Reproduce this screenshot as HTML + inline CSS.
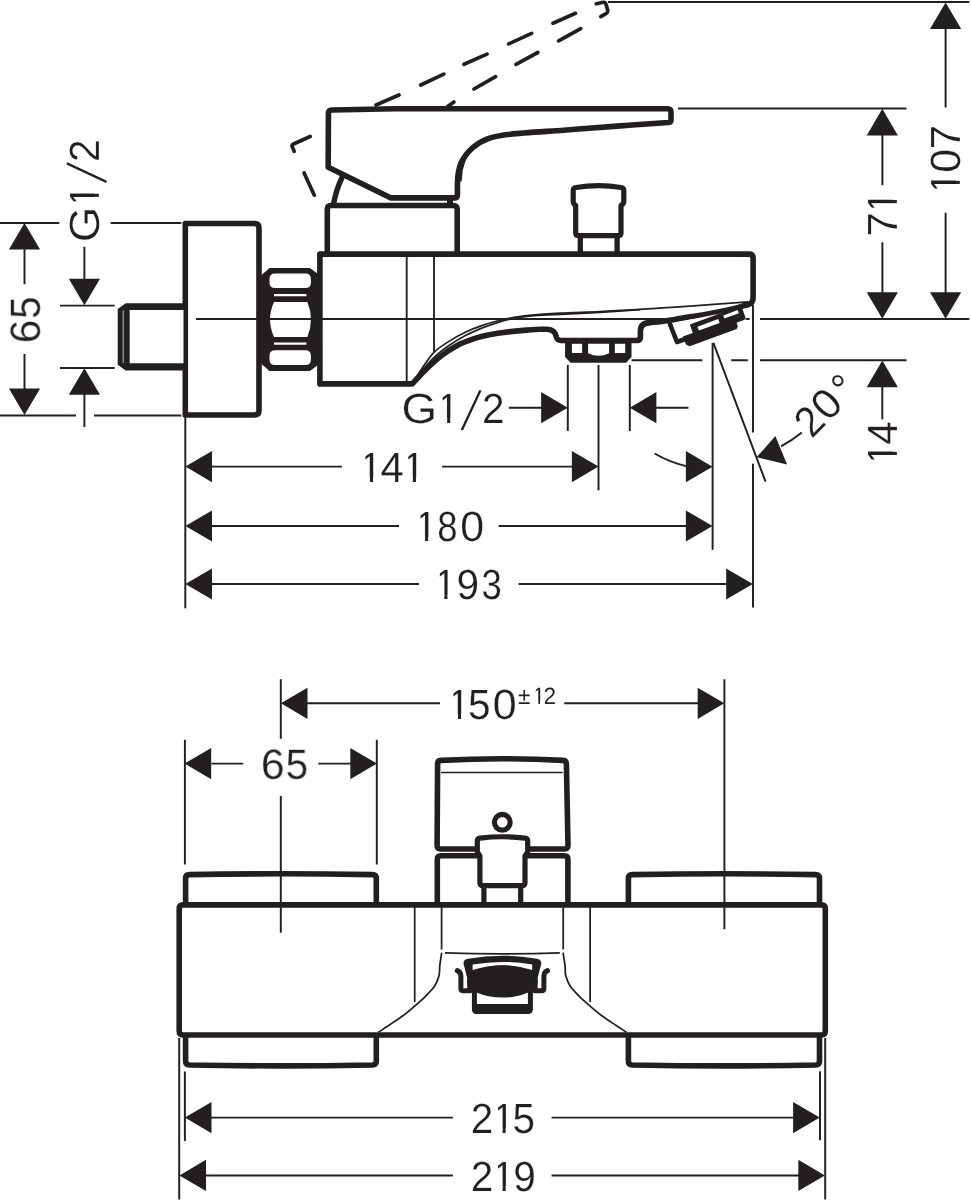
<!DOCTYPE html>
<html lang="en">
<head>
<meta charset="utf-8">
<title>Dimension drawing</title>
<style>
html,body{margin:0;padding:0;background:#fff;}
body{width:971px;height:1201px;overflow:hidden;}
svg{display:block;will-change:transform;}
svg text{font-family:"Liberation Sans",sans-serif;fill:#231f20;text-rendering:geometricPrecision;}

</style>
</head>
<body>
<svg width="971" height="1201" viewBox="0 0 971 1201">
<defs><filter id="gray" filterUnits="userSpaceOnUse" x="0" y="0" width="971" height="1201"><feOffset dx="0" dy="0"/></filter></defs>
<rect x="0" y="0" width="971" height="1201" fill="#fff"/>
<path d="M196 319.0 H667" fill="none" stroke="#231f20" stroke-width="1.95" />
<path d="M745.8 319.0 H749.6 M760 319.0 H969.3" fill="none" stroke="#231f20" stroke-width="1.95" />
<path d="M376 105 L399 95 M420.7 85 L443.8 74.1 M464 64.3 L487 54.1 M508.6 43.9 L531.6 33.4 M553 23.2 L575.5 13.3 M596.4 3.8 L603 2.3 Q605.3 2 606 4.2 L607.7 10.3 Q608.1 12.3 606.4 13.3 L600.8 16.6 M447.7 106.6 L453.9 102 M474 89 L495.6 76.6 M516 64.3 L537.8 52.5 M558.6 40.8 L580.7 28.6 M294.2 151.4 L292.2 146.5 Q291.6 145 293 144.3 L310.2 136.5 M304.1 173 L314.3 195.2" fill="none" stroke="#231f20" stroke-width="3.7" stroke-linecap="round" stroke-linejoin="round"/>
<path d="M185.3 223.5 H254.5 Q259 223.5 259 228 V410.5 Q259 415 254.5 415 H185.3 Z" fill="#fff" stroke="#231f20" stroke-width="5.6" stroke-linejoin="round" stroke-linecap="round" />
<path d="M196 319.0 H262" fill="none" stroke="#231f20" stroke-width="1.95" />
<path d="M184 303.2 H125.7 L117.7 309 V364.7 L125.7 370.5 H184 Z" fill="#231f20"/>
<path d="M129.7 310.1 H183.5 V363.3 H129.7 Z" fill="#fff"/>
<path d="M123.2 310.5 V363" fill="none" stroke="#fff" stroke-width="1.1" opacity="0.65"/>
<path d="M261 275.5 L269.5 268 H309.9 L318 274 V365 L309.9 371 H269.5 L261 363.4 Z" fill="#231f20"/>
<path d="M275.0 273.5 H305.4 Q310.9 273.5 310.9 279.0 V282.5 Q310.9 288 305.4 288 H275.0 Q269.5 288 269.5 282.5 V279.0 Q269.5 273.5 275.0 273.5 Z" fill="#fff"/>
<path d="M275.0 350.3 H305.4 Q310.9 350.3 310.9 355.8 V359.5 Q310.9 365 305.4 365 H275.0 Q269.5 365 269.5 359.5 V355.8 Q269.5 350.3 275.0 350.3 Z" fill="#fff"/>
<path d="M274 302 H307.4 Q314.6 319.45 307.4 336.9 H274 Q266 319.45 274 302 Z" fill="#fff"/>
<path d="M274 294 H306.4 V296.2 H274 Z" fill="#fff"/>
<path d="M274 342.5 H306.4 V344.7 H274 Z" fill="#fff"/>
<path d="M262 319.0 H320" fill="none" stroke="#231f20" stroke-width="1.95" />
<path d="M327.3 254.1 V209.2 Q327.3 205.5 331 205.5 H453.5 Q457.2 205.5 457.2 209.2 V254.1" fill="#fff" stroke="#231f20" stroke-width="5.6" stroke-linejoin="round" stroke-linecap="round" />
<path d="M319.9 383.9 V254.1 H749.1 Q753.1 254.1 753.1 258.1 V297.5 Q753.1 303 748.5 304.5  C745.1 305.4 735.2 308.4 728.0 310.0 C720.8 311.6 712.8 313.1 705.3 314.4 C697.8 315.7 688.4 317.0 682.7 317.9 C677.0 318.8 675.1 319.4 671.3 320.0 C667.5 320.6 663.5 321.2 660.0 321.6 C656.5 322.0 651.7 322.4 650.0 322.6 Q640.4 322.8 640.4 331 V336.7 Q640.4 340.5 636.5 340.5 H561 Q557.2 340.5 556.4 337 Q555.2 329.5 547 329.2 C545.8 329.2 543.9 329.1 540.0 329.3 C536.1 329.5 529.1 329.9 523.6 330.4 C518.1 330.8 512.6 331.3 507.1 332.0 C501.6 332.7 496.1 333.4 490.6 334.5 C485.1 335.6 479.6 336.8 474.1 338.6 C468.6 340.4 463.2 342.3 457.7 345.2 C452.2 348.1 446.7 351.6 441.2 355.9 C435.7 360.1 429.5 366.0 424.7 370.7 C419.9 375.4 414.4 381.7 412.3 383.9 Z" fill="#fff" stroke="#231f20" stroke-width="5.6" stroke-linejoin="round" stroke-linecap="round" />
<path d="M322 319.0 H668" fill="none" stroke="#231f20" stroke-width="1.95" />
<path d="M406.7 256 V382 M434 256 V352.5" fill="none" stroke="#231f20" stroke-width="1.85" />
<path d="M415.0 379.0 C418.0 374.7 427.3 359.7 433.0 353.4 C438.7 347.1 443.9 344.7 449.4 341.1 C454.9 337.5 460.4 334.6 465.9 332.0 C471.4 329.4 476.9 327.3 482.4 325.4 C487.9 323.5 493.4 321.9 498.9 320.5 C504.4 319.1 509.8 318.1 515.3 317.2 C520.8 316.3 524.3 315.7 531.8 315.0 C539.2 314.3 548.6 313.7 560.0 313.1 C571.4 312.5 586.7 312.2 600.0 311.6 C613.3 311.0 625.0 310.3 640.0 309.4 C655.0 308.5 672.0 307.4 690.0 306.1 C708.0 304.9 738.3 302.6 748.0 301.9" fill="none" stroke="#231f20" stroke-width="1.7" />
<path d="M415.0 379.0 C418.0 375.6 427.3 364.0 433.0 358.4 C438.7 352.8 443.9 349.0 449.4 345.2 C454.9 341.4 460.4 338.2 465.9 335.3 C471.4 332.4 476.9 330.1 482.4 327.9 C487.9 325.7 493.4 323.8 498.9 322.1 C504.4 320.5 509.8 319.1 515.3 318.0 C520.8 316.9 524.3 316.4 531.8 315.8 C539.2 315.2 548.6 315.0 560.0 314.4 C571.4 313.8 586.7 313.1 600.0 312.3 C613.3 311.5 633.3 310.1 640.0 309.6" fill="none" stroke="#231f20" stroke-width="1.7" />
<path d="M565.1 339 H631.5 V357 L626.1 362.7 H570.6 L565.1 357 Z" fill="#231f20"/>
<path d="M571.9 343.8 H582.1 V353 H571.9 Z" fill="#fff"/>
<path d="M614.8 343.8 H625.2 V353 H614.8 Z" fill="#fff"/>
<path d="M588.1 343.8 H609.1 V353.2 Q598.6 358.2 588.1 353.2 Z" fill="#fff"/>
<path d="M669.9 323.8 L677.0 342.0 L743.2 317.9 L740.2 309.4" fill="#fff" stroke="#231f20" stroke-width="4.6" stroke-linejoin="round" stroke-linecap="round" />
<path d="M683.0 336.6 L734.7 317.8 L737.8 326.3 L736.7 329.1 L689.7 346.2 L685.9 344.6 Z" fill="#231f20"/>
<path d="M689.8 324.6 L719.9 313.6 L723.3 323.0 L693.2 334.0 Z" fill="#231f20"/>
<path d="M697.5 326.7 L718.2 319.1 L719.6 323.1 L698.9 330.6 Z" fill="#fff"/>
<path d="M718.9 314.0 L739.6 306.4 L743.0 315.8 L722.4 323.4 Z" fill="#231f20"/>
<path d="M723.2 315.4 L737.8 310.1 L738.9 313.3 L724.4 318.6 Z" fill="#fff"/>
<path d="M341.8 178 Q336 190 333.6 204" fill="none" stroke="#231f20" stroke-width="5.4" stroke-linejoin="round" stroke-linecap="round" />
<path d="M450 198 V205.5" fill="none" stroke="#231f20" stroke-width="6" />
<path d="M328.4 113.5 Q328.4 110.1 331.8 110 L395 108.7 H667.6 Q671 108.7 671 112 V120 Q671 122.3 668.5 122.5 C660.0 123.1 634.8 124.8 617.4 126.1 C600.0 127.4 581.8 128.8 563.9 130.2 C546.0 131.5 522.8 132.8 510.3 134.2 C497.8 135.6 495.1 136.2 488.9 138.4 C482.6 140.6 477.3 143.8 472.8 147.6 C468.3 151.3 464.5 156.7 462.1 160.9 C459.7 165.1 459.1 168.8 458.3 173.0 C457.5 177.2 457.5 183.8 457.4 186.0 V195.2 Q457.2 197.9 454.5 197.9 H391 L328.2 167.3 Z" fill="#fff" stroke="#231f20" stroke-width="5.6" stroke-linejoin="round" stroke-linecap="round" />
<path d="M466.5 157.5 L462.8 170 L461.6 181.5 L459 181.5 L460.5 168 L463 158 Z" fill="#231f20"/>
<path d="M580.3 235.6 V253 M617.1 235.6 V253" fill="none" stroke="#231f20" stroke-width="5.3" stroke-linejoin="round" stroke-linecap="round" />
<path d="M573.2 190.5 Q573.2 187.8 576 187.5 Q598.5 183.9 621 187.5 Q623.8 187.8 623.8 190.5 V201.5 Q623.8 203.8 621 205.5 V233 Q621 235.6 618.3 235.6 H578.4 Q575.7 235.6 575.7 233 V205.5 Q573.2 203.8 573.2 201.5 Z" fill="#fff" stroke="#231f20" stroke-width="5.2" stroke-linejoin="round" stroke-linecap="round" />
<path d="M608 2 H969.3" fill="none" stroke="#231f20" stroke-width="1.95" />
<path d="M678 108.4 H906.5" fill="none" stroke="#231f20" stroke-width="1.95" />
<path d="M631.5 360.2 H702.4 M731.2 360.2 H747.8 M760 360.2 H906.5" fill="none" stroke="#231f20" stroke-width="1.95" />
<path d="M0 222.9 H59.3 M110.6 222.9 H181.3 M0 415.4 H76 M94 415.4 H181.3" fill="none" stroke="#231f20" stroke-width="1.95" />
<path d="M24.5 248 V284.3 M24.5 354 V391" fill="none" stroke="#231f20" stroke-width="1.95" />
<path d="M24.5 223.0 L8.9 249.6 L40.1 249.6 Z" fill="#231f20"/>
<path d="M24.5 415.1 L40.1 388.5 L8.9 388.5 Z" fill="#231f20"/>
<path d="M84.4 246.7 V281 M84.4 393 V427" fill="none" stroke="#231f20" stroke-width="1.95" />
<path d="M60 305.6 H114.6 M60 367.9 H114.6" fill="none" stroke="#231f20" stroke-width="1.95" />
<path d="M84.4 305.3 L100.0 278.7 L68.8 278.7 Z" fill="#231f20"/>
<path d="M84.4 368.2 L68.8 394.8 L100.0 394.8 Z" fill="#231f20"/>
<path d="M185.3 417 V608.3" fill="none" stroke="#231f20" stroke-width="1.95" />
<path d="M567.8 365 V431 M598.5 365 V490.3 M629.8 365 V431" fill="none" stroke="#231f20" stroke-width="1.95" />
<path d="M712.6 342.8 V549.8" fill="none" stroke="#231f20" stroke-width="1.95" />
<path d="M753 305 V432.5 M753 463.8 V607.6" fill="none" stroke="#231f20" stroke-width="1.95" />
<path d="M713.4 342.8 L765.6 481.7" fill="none" stroke="#231f20" stroke-width="1.95" />
<path d="M211 466.6 H342 M442 466.6 H572.6" fill="none" stroke="#231f20" stroke-width="1.95" />
<path d="M185.4 466.6 L212.0 482.2 L212.0 451.0 Z" fill="#231f20"/>
<path d="M598.5 466.6 L571.9 451.0 L571.9 482.2 Z" fill="#231f20"/>
<path d="M211 526 H399 M498.6 526 H686.4" fill="none" stroke="#231f20" stroke-width="1.95" />
<path d="M185.4 526.0 L212.0 541.6 L212.0 510.4 Z" fill="#231f20"/>
<path d="M712.5 526.0 L685.9 510.4 L685.9 541.6 Z" fill="#231f20"/>
<path d="M211 584 H419 M518.7 584 H726.6" fill="none" stroke="#231f20" stroke-width="1.95" />
<path d="M185.4 584.0 L212.0 599.6 L212.0 568.4 Z" fill="#231f20"/>
<path d="M752.8 584.0 L726.2 568.4 L726.2 599.6 Z" fill="#231f20"/>
<path d="M508.8 407.7 H542 M655.6 407.7 H688.5" fill="none" stroke="#231f20" stroke-width="1.95" />
<path d="M567.7 407.7 L541.1 392.1 L541.1 423.3 Z" fill="#231f20"/>
<path d="M629.8 407.7 L656.4 423.3 L656.4 392.1 Z" fill="#231f20"/>
<path d="M654.6 453.5 Q669 462 687 466.4" fill="none" stroke="#231f20" stroke-width="1.95" />
<path d="M712.5 466.7 L685.9 451.1 L685.9 482.3 Z" fill="#231f20"/>
<path d="M781 446.3 Q792 440.5 801.8 432.5" fill="none" stroke="#231f20" stroke-width="1.95" />
<path d="M756.5 457.3 L775.4 436.1 L787 464.6 Z" fill="#231f20"/>
<path d="M945.6 27 V107.5 M945.6 212.7 V294" fill="none" stroke="#231f20" stroke-width="1.95" />
<path d="M945.6 2.4 L930.0 29.0 L961.2 29.0 Z" fill="#231f20"/>
<path d="M945.6 318.8 L961.2 292.2 L930.0 292.2 Z" fill="#231f20"/>
<path d="M882.4 134 V185.3 M882.4 242.2 V294" fill="none" stroke="#231f20" stroke-width="1.95" />
<path d="M882.3 108.8 L866.7 135.4 L897.9 135.4 Z" fill="#231f20"/>
<path d="M882.3 318.8 L897.9 292.2 L866.7 292.2 Z" fill="#231f20"/>
<path d="M882.3 386 V419.3" fill="none" stroke="#231f20" stroke-width="1.95" />
<path d="M882.3 360.6 L866.7 387.2 L897.9 387.2 Z" fill="#231f20"/>
<path d="M185.6 904.9 V878.4 Q185.6 874.8 189.6 874.6 Q280.95 873 372.3 874.6 Q376.3 874.8 376.3 878.4 V904.9" fill="#fff" stroke="#231f20" stroke-width="5.6" stroke-linejoin="round" stroke-linecap="round" />
<path d="M185.6 1035 V1061.2 Q185.6 1064.8 189.6 1065 Q280.95 1066.8 372.3 1065 Q376.3 1064.8 376.3 1061.2 V1035" fill="#fff" stroke="#231f20" stroke-width="5.6" stroke-linejoin="round" stroke-linecap="round" />
<path d="M628.4 904.9 V878.4 Q628.4 874.8 632.4 874.6 Q723.95 873 815.5 874.6 Q819.5 874.8 819.5 878.4 V904.9" fill="#fff" stroke="#231f20" stroke-width="5.6" stroke-linejoin="round" stroke-linecap="round" />
<path d="M628.4 1035 V1061.2 Q628.4 1064.8 632.4 1065 Q723.95 1066.8 815.5 1065 Q819.5 1064.8 819.5 1061.2 V1035" fill="#fff" stroke="#231f20" stroke-width="5.6" stroke-linejoin="round" stroke-linecap="round" />
<path d="M437.3 904.8 V859.3 Q437.3 855.7 441 855.7 H564.2 Q567.9 855.7 567.9 859.3 V904.8" fill="#fff" stroke="#231f20" stroke-width="5.6" stroke-linejoin="round" stroke-linecap="round" />
<path d="M437.6 764 Q437.6 760.6 441 760.4 Q502 757 563 760.4 Q566.3 760.6 566.4 764 L568 845.4 Q568 849 564.5 849 H440.5 Q437 849 437.1 845.4 Z" fill="#fff" stroke="#231f20" stroke-width="5.6" stroke-linejoin="round" stroke-linecap="round" />
<path d="M441 772.4 H562.7" fill="none" stroke="#231f20" stroke-width="1.5" />
<path d="M483.9 885.7 V904 M520.7 885.7 V904" fill="none" stroke="#231f20" stroke-width="5.2" stroke-linejoin="round" stroke-linecap="round" />
<path d="M477.3 841 Q477.3 838.4 480 838.1 Q502.4 835.4 525 838.1 Q527.7 838.4 527.7 841 V852 L525 856 V882.5 Q525 885.7 522 885.7 H483 Q479.9 885.7 479.9 882.5 V856 L477.3 852 Z" fill="#fff" stroke="#231f20" stroke-width="5.2" stroke-linejoin="round" stroke-linecap="round" />
<circle cx="502.3" cy="822.3" r="7.9" fill="#fff" stroke="#231f20" stroke-width="5.2"/>
<path d="M183.2 904.9 H821.3 Q825.3 904.9 825.3 908.9 V1031 Q825.3 1035 821.3 1035 H183.2 Q179.2 1035 179.2 1031 V908.9 Q179.2 904.9 183.2 904.9 Z" fill="#fff" stroke="#231f20" stroke-width="5.6" stroke-linejoin="round" stroke-linecap="round" />
<path d="M414.7 906 V1002 M441.6 906 V949.6 M563.1999999999999 906 V949.6 M590.0999999999999 906 V1002" fill="none" stroke="#231f20" stroke-width="1.75" />
<path d="M445 952.8 Q502.4 955 559.8 952.8" fill="none" stroke="#231f20" stroke-width="1.75" />
<path d="M441.7 952.6 C441.4 954.8 440.2 961.8 439.8 965.7 C439.4 969.6 439.9 972.4 439.0 975.8 C438.1 979.2 437.0 982.6 434.5 986.3 C432.0 989.9 427.5 994.4 424.2 997.7 C420.9 1001.0 418.3 1003.0 414.9 1005.9 C411.5 1008.8 407.2 1012.5 403.6 1015.2 C400.0 1018.0 396.7 1020.1 393.3 1022.4 C389.9 1024.7 385.5 1027.4 383.0 1029.1 C380.5 1030.8 379.0 1031.9 378.2 1032.4" fill="none" stroke="#231f20" stroke-width="1.75" />
<path d="M563.1 952.6 C563.4 954.8 564.5 961.8 565.0 965.7 C565.5 969.6 564.9 972.4 565.8 975.8 C566.7 979.2 567.8 982.6 570.3 986.3 C572.8 989.9 577.3 994.4 580.6 997.7 C583.9 1001.0 586.5 1003.0 589.9 1005.9 C593.3 1008.8 597.6 1012.5 601.2 1015.2 C604.8 1018.0 608.1 1020.1 611.5 1022.4 C614.9 1024.7 619.3 1027.4 621.8 1029.1 C624.3 1030.8 625.8 1031.9 626.6 1032.4" fill="none" stroke="#231f20" stroke-width="1.75" />
<path d="M463.6 964 Q463 959.8 468 958.8 Q502.4 952.6 536.8 958.8 Q541.8 959.8 541.2 964 L537.6 978 V989 H467.2 V978 Z" fill="#231f20"/>
<path d="M472.6 964.6 Q502.4 959.3 532.2 964.6 V969.9 Q502.4 961 472.6 969.9 Z" fill="#fff"/>
<ellipse cx="502.4" cy="981.4" rx="35.5" ry="16.2" fill="#231f20"/>
<path d="M474.4 988 V1009.3 Q474.4 1011.5 476.7 1011.5 H528.1 Q530.4 1011.5 530.4 1009.3 V988" fill="none" stroke="#231f20" stroke-width="5" stroke-linejoin="round" stroke-linecap="round" />
<path d="M474 1004 H531 V1011 H474 Z" fill="#231f20"/>
<path d="M457.3 970.6 Q460.9 972 460.9 976 V988.5 Q460.9 990.8 463.2 990.8 H470.0" fill="none" stroke="#231f20" stroke-width="5" stroke-linejoin="round" stroke-linecap="round" />
<path d="M547.5 970.6 Q543.9 972 543.9 976 V988.5 Q543.9 990.8 541.6 990.8 H534.8" fill="none" stroke="#231f20" stroke-width="5" stroke-linejoin="round" stroke-linecap="round" />
<path d="M280.8 679.3 V738.8 M280.8 795.9 V932.8 M724.4 679.3 V929.3" fill="none" stroke="#231f20" stroke-width="1.95" />
<path d="M307 703.3 H440 M564.3 703.3 H698.5" fill="none" stroke="#231f20" stroke-width="1.95" />
<path d="M280.9 703.3 L307.5 718.9 L307.5 687.7 Z" fill="#231f20"/>
<path d="M724.3 703.3 L697.7 687.7 L697.7 718.9 Z" fill="#231f20"/>
<path d="M184.9 739.8 V864.5 M376.8 739.8 V864.5" fill="none" stroke="#231f20" stroke-width="1.95" />
<path d="M211.5 763.6 H243.3 M318.3 763.6 H350.8" fill="none" stroke="#231f20" stroke-width="1.95" />
<path d="M184.6 763.6 L211.2 779.2 L211.2 748.0 Z" fill="#231f20"/>
<path d="M376.9 763.6 L350.3 748.0 L350.3 779.2 Z" fill="#231f20"/>
<path d="M179.2 1038 V1199.4 M184.9 1071.5 V1141 M820 1071.3 V1140.3 M825.2 1038 V1199.4" fill="none" stroke="#231f20" stroke-width="1.95" />
<path d="M210.8 1117.6 H452.9 M551.6 1117.6 H793.8 M205.2 1175.4 H452.9 M551.6 1175.4 H799.9" fill="none" stroke="#231f20" stroke-width="1.95" />
<path d="M184.9 1117.6 L211.5 1133.2 L211.5 1102.0 Z" fill="#231f20"/>
<path d="M819.7 1117.6 L793.1 1102.0 L793.1 1133.2 Z" fill="#231f20"/>
<path d="M179.4 1175.4 L206.0 1191.0 L206.0 1159.8 Z" fill="#231f20"/>
<path d="M824.9 1175.4 L798.3 1159.8 L798.3 1191.0 Z" fill="#231f20"/>
<g filter="url(#gray)">
<g transform="translate(99.3 240) rotate(-90) scale(0.96 1)"><text font-size="42.2" stroke="#fff" stroke-width="0.2"><tspan x="-2.30" y="0.00" textLength="37.09" lengthAdjust="spacingAndGlyphs">G</tspan><tspan x="34.11" y="0.00">1</tspan><tspan x="57.80" y="7.20" font-size="61" rotate="10.7" stroke-width="2.1">/</tspan><tspan x="81.21" y="0.00">2</tspan></text><rect x="35.80" y="-4.43" width="9.16" height="5.93" fill="#fff"/><rect x="35.80" y="-27.85" width="4.43" height="10.13" fill="#fff"/><rect x="48.17" y="-4.43" width="9.07" height="5.93" fill="#fff"/></g>
<g transform="translate(39.8 341.2) rotate(-90) scale(0.96 1)"><text font-size="42.2" stroke="#fff" stroke-width="0.2"><tspan x="-2.35" y="0.00" textLength="24.65" lengthAdjust="spacingAndGlyphs">6</tspan><tspan x="23.23" y="0.00">5</tspan></text></g>
<g transform="translate(897.3 234.2) rotate(-90) scale(0.96 1)"><text font-size="42.2" stroke="#fff" stroke-width="0.2"><tspan x="-2.36" y="0.00" textLength="25.35" lengthAdjust="spacingAndGlyphs">7</tspan><tspan x="21.51" y="0.00">1</tspan></text><rect x="23.20" y="-4.43" width="9.16" height="5.93" fill="#fff"/><rect x="23.20" y="-27.85" width="4.43" height="10.13" fill="#fff"/><rect x="35.56" y="-4.43" width="9.07" height="5.93" fill="#fff"/></g>
<g transform="translate(960.4 190) rotate(-90) scale(0.96 1)"><text font-size="42.2" stroke="#fff" stroke-width="0.2"><tspan x="-4.53" y="0.00">1</tspan><tspan x="18.00" y="0.00" textLength="24.88" lengthAdjust="spacingAndGlyphs">0</tspan><tspan x="42.54" y="0.00" textLength="25.35" lengthAdjust="spacingAndGlyphs">7</tspan></text><rect x="-2.84" y="-4.43" width="9.16" height="5.93" fill="#fff"/><rect x="-2.84" y="-27.85" width="4.43" height="10.13" fill="#fff"/><rect x="9.52" y="-4.43" width="9.07" height="5.93" fill="#fff"/></g>
<g transform="translate(897.4 460) rotate(-90) scale(0.96 1)"><text font-size="42.2" stroke="#fff" stroke-width="0.2"><tspan x="-5.57" y="0.00">1</tspan><tspan x="15.78" y="0.00" textLength="24.18" lengthAdjust="spacingAndGlyphs">4</tspan></text><rect x="-3.89" y="-4.43" width="9.16" height="5.93" fill="#fff"/><rect x="-3.89" y="-27.85" width="4.43" height="10.13" fill="#fff"/><rect x="8.48" y="-4.43" width="9.07" height="5.93" fill="#fff"/></g>
<g transform="translate(0 422.8) rotate(0) scale(0.96 1)"><text font-size="42.2" stroke="#fff" stroke-width="0.2"><tspan x="418.32" y="0.00" textLength="37.09" lengthAdjust="spacingAndGlyphs">G</tspan><tspan x="454.95" y="0.00">1</tspan><tspan x="478.53" y="7.20" font-size="61" rotate="10.7" stroke-width="2.1">/</tspan><tspan x="502.04" y="0.00">2</tspan></text><rect x="456.63" y="-4.43" width="9.16" height="5.93" fill="#fff"/><rect x="456.63" y="-27.85" width="4.43" height="10.13" fill="#fff"/><rect x="469.00" y="-4.43" width="9.07" height="5.93" fill="#fff"/></g>
<g transform="translate(0 481.7) rotate(0) scale(0.96 1)"><text font-size="42.2" stroke="#fff" stroke-width="0.2"><tspan x="374.53" y="0.00">1</tspan><tspan x="396.40" y="0.00" textLength="24.18" lengthAdjust="spacingAndGlyphs">4</tspan><tspan x="419.22" y="0.00">1</tspan></text><rect x="376.22" y="-4.43" width="9.16" height="5.93" fill="#fff"/><rect x="376.22" y="-27.85" width="4.43" height="10.13" fill="#fff"/><rect x="388.58" y="-4.43" width="9.07" height="5.93" fill="#fff"/><rect x="420.91" y="-4.43" width="9.16" height="5.93" fill="#fff"/><rect x="420.91" y="-27.85" width="4.43" height="10.13" fill="#fff"/><rect x="433.27" y="-4.43" width="9.07" height="5.93" fill="#fff"/></g>
<g transform="translate(0 541.2) rotate(0) scale(0.96 1)"><text font-size="42.2" stroke="#fff" stroke-width="0.2"><tspan x="431.93" y="0.00">1</tspan><tspan x="455.50" y="0.00" textLength="21.12" lengthAdjust="spacingAndGlyphs">8</tspan><tspan x="479.36" y="0.00" textLength="24.88" lengthAdjust="spacingAndGlyphs">0</tspan></text><rect x="433.61" y="-4.43" width="9.16" height="5.93" fill="#fff"/><rect x="433.61" y="-27.85" width="4.43" height="10.13" fill="#fff"/><rect x="445.98" y="-4.43" width="9.07" height="5.93" fill="#fff"/></g>
<g transform="translate(0 599.3) rotate(0) scale(0.96 1)"><text font-size="42.2" stroke="#fff" stroke-width="0.2"><tspan x="452.03" y="0.00">1</tspan><tspan x="475.48" y="0.00">9</tspan><tspan x="501.66" y="0.00" textLength="21.12" lengthAdjust="spacingAndGlyphs">3</tspan></text><rect x="453.72" y="-4.43" width="9.16" height="5.93" fill="#fff"/><rect x="453.72" y="-27.85" width="4.43" height="10.13" fill="#fff"/><rect x="466.08" y="-4.43" width="9.07" height="5.93" fill="#fff"/></g>
<g transform="translate(813.2 437.7) rotate(-45.5) scale(0.96 1)"><text font-size="42.2" stroke="#fff" stroke-width="0.2"><tspan x="-2.34" y="0.00">2</tspan><tspan x="22.38" y="0.00" textLength="24.88" lengthAdjust="spacingAndGlyphs">0</tspan><tspan x="52.00" y="1.20" stroke-width="0.1">°</tspan></text></g>
<g transform="translate(0 718.5) rotate(0) scale(0.96 1)"><text font-size="42.2" stroke="#fff" stroke-width="0.2"><tspan x="466.20" y="0.00">1</tspan><tspan x="487.60" y="0.00">5</tspan><tspan x="513.21" y="0.00" textLength="24.88" lengthAdjust="spacingAndGlyphs">0</tspan></text><rect x="467.88" y="-4.43" width="9.16" height="5.93" fill="#fff"/><rect x="467.88" y="-27.85" width="4.43" height="10.13" fill="#fff"/><rect x="480.25" y="-4.43" width="9.07" height="5.93" fill="#fff"/></g>
<g transform="translate(0 703.8) rotate(0) scale(0.96 1)"><text font-size="23.6" stroke="#fff" stroke-width="0.05"><tspan x="539.46" y="0.00">±</tspan><tspan x="554.70" y="0.00">1</tspan><tspan x="566.06" y="0.00">2</tspan></text><rect x="555.65" y="-2.48" width="5.16" height="3.98" fill="#fff"/><rect x="555.65" y="-15.58" width="2.48" height="5.66" fill="#fff"/><rect x="562.53" y="-2.48" width="5.07" height="3.98" fill="#fff"/></g>
<g transform="translate(0 778.8) rotate(0) scale(0.96 1)"><text font-size="42.2" stroke="#fff" stroke-width="0.2"><tspan x="271.82" y="0.00" textLength="24.65" lengthAdjust="spacingAndGlyphs">6</tspan><tspan x="297.39" y="0.00">5</tspan></text></g>
<g transform="translate(0 1132.7) rotate(0) scale(0.96 1)"><text font-size="42.2" stroke="#fff" stroke-width="0.2"><tspan x="490.37" y="0.00">2</tspan><tspan x="512.66" y="0.00">1</tspan><tspan x="533.85" y="0.00">5</tspan></text><rect x="514.34" y="-4.43" width="9.16" height="5.93" fill="#fff"/><rect x="514.34" y="-27.85" width="4.43" height="10.13" fill="#fff"/><rect x="526.71" y="-4.43" width="9.07" height="5.93" fill="#fff"/></g>
<g transform="translate(0 1190.6) rotate(0) scale(0.96 1)"><text font-size="42.2" stroke="#fff" stroke-width="0.2"><tspan x="490.37" y="0.00">2</tspan><tspan x="512.66" y="0.00">1</tspan><tspan x="534.54" y="0.00">9</tspan></text><rect x="514.34" y="-4.43" width="9.16" height="5.93" fill="#fff"/><rect x="514.34" y="-27.85" width="4.43" height="10.13" fill="#fff"/><rect x="526.71" y="-4.43" width="9.07" height="5.93" fill="#fff"/></g>
</g>
</svg>
</body>
</html>
